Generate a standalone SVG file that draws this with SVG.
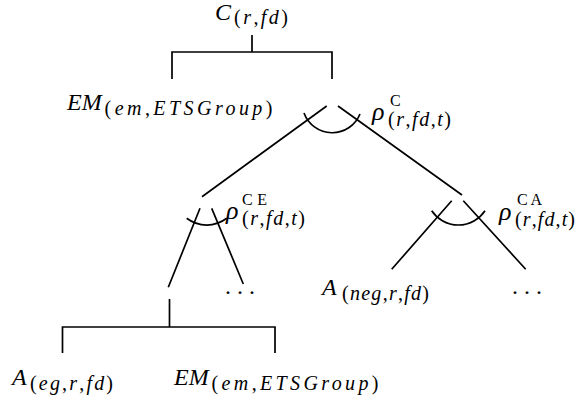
<svg xmlns="http://www.w3.org/2000/svg" width="577" height="403" viewBox="0 0 577 403">
<style>
text{font-family:"Liberation Serif","Times New Roman",serif;fill:#000}
.m{font-size:24px;font-style:italic}
.r{font-size:26px;font-style:italic}
.s{font-size:20px;font-style:italic}
.sup{font-size:16px;font-style:normal}
.u{font-style:normal}
.d{font-size:24px}
.e{fill:none;stroke:#000;stroke-width:1.7;stroke-linecap:butt}
</style>
<rect width="577" height="403" fill="#fff"/>
<g id="connectors" class="e">
<path class="e" d="M252 35V52M172 79V52H332V79"/>
<path class="e" d="M326.7 106L202 196.7M338 106L462 195"/>
<path class="e" d="M360 114A30 30 0 0 1 304 113"/>
<path class="e" d="M200 208.3L168.3 287.3M211.7 208.3L243.3 284"/>
<path class="e" d="M226.7 218.3A33 33 0 0 1 186.7 218.3"/>
<path class="e" d="M451.7 200.7L391.7 269.3M463.3 200.7L525.7 269.3"/>
<path class="e" d="M485 210.7A32 32 0 0 1 431.7 210.7"/>
<path class="e" d="M169.5 299V327M62.5 353V327H275V353"/>
</g>
<g id="n-root"><text class="m" x="215" y="20">C</text><text class="s" x="234" y="24" textLength="54" lengthAdjust="spacing"><tspan class="u">(</tspan>r<tspan class="u">,</tspan>fd<tspan class="u">)</tspan></text></g>
<g id="n-em-top"><text class="m" x="67" y="110">EM</text><text class="s" x="104.5" y="115" textLength="168" lengthAdjust="spacing"><tspan class="u">(</tspan>em<tspan class="u">,</tspan>ETSGroup<tspan class="u">)</tspan></text></g>
<g id="l-rho-c"><text class="r" x="372" y="120">ρ</text><text class="sup" x="390" y="106">C</text><text class="s" x="388" y="126" textLength="63" lengthAdjust="spacing"><tspan class="u">(</tspan>r<tspan class="u">,</tspan>fd<tspan class="u">,</tspan>t<tspan class="u">)</tspan></text></g>
<g id="l-rho-ce"><text class="r" x="226" y="219">ρ</text><text class="sup" x="242" y="205" textLength="25" lengthAdjust="spacing">CE</text><text class="s" x="242" y="225" textLength="63" lengthAdjust="spacing"><tspan class="u">(</tspan>r<tspan class="u">,</tspan>fd<tspan class="u">,</tspan>t<tspan class="u">)</tspan></text></g>
<g id="l-rho-ca"><text class="r" x="499" y="220">ρ</text><text class="sup" x="517" y="205" textLength="25" lengthAdjust="spacing">CA</text><text class="s" x="515" y="226" textLength="60" lengthAdjust="spacing"><tspan class="u">(</tspan>r<tspan class="u">,</tspan>fd<tspan class="u">,</tspan>t<tspan class="u">)</tspan></text></g>
<g id="n-dots-ce"><text class="d" x="225" y="294">. . .</text></g>
<g id="n-a-neg"><text class="m" x="322" y="295">A</text><text class="s" x="342" y="300" textLength="87" lengthAdjust="spacing"><tspan class="u">(</tspan>neg<tspan class="u">,</tspan>r<tspan class="u">,</tspan>fd<tspan class="u">)</tspan></text></g>
<g id="n-dots-ca"><text class="d" x="512" y="294">. . .</text></g>
<g id="n-a-eg"><text class="m" x="12" y="385">A</text><text class="s" x="30" y="390" textLength="83" lengthAdjust="spacing"><tspan class="u">(</tspan>eg<tspan class="u">,</tspan>r<tspan class="u">,</tspan>fd<tspan class="u">)</tspan></text></g>
<g id="n-em-bottom"><text class="m" x="174" y="385">EM</text><text class="s" x="211.5" y="390" textLength="167" lengthAdjust="spacing"><tspan class="u">(</tspan>em<tspan class="u">,</tspan>ETSGroup<tspan class="u">)</tspan></text></g>
</svg>
